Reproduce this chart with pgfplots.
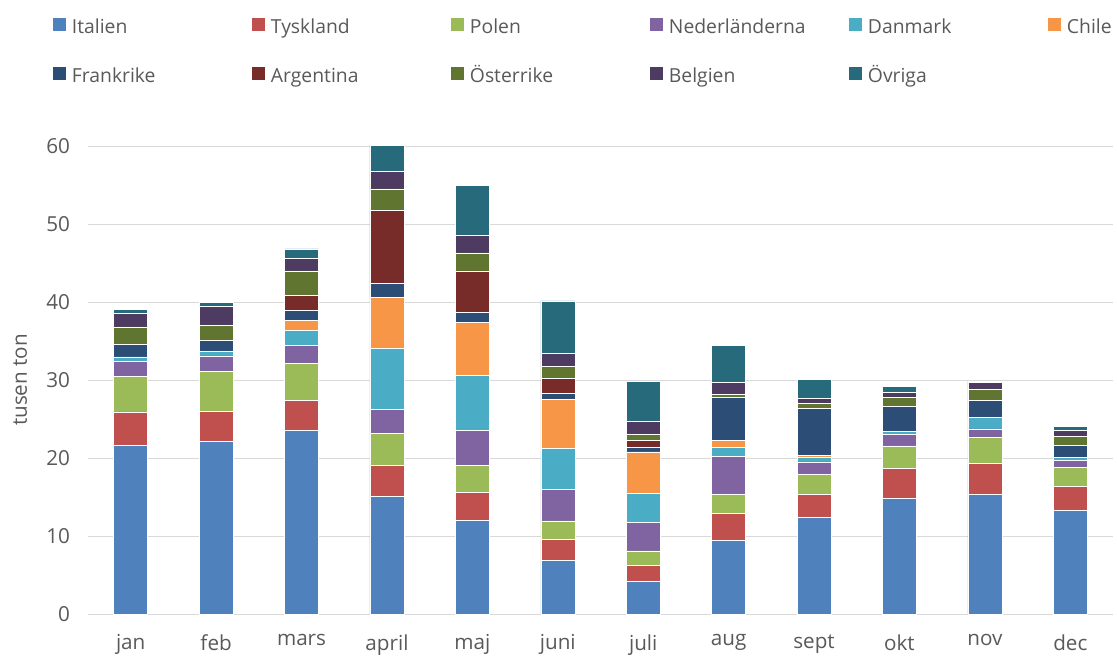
\documentclass[border=0pt]{standalone}
\usepackage{pgfplots}
\pgfplotsset{compat=1.18}
\usepackage{pgfplotstable}
\usepackage{fontspec}
\setmainfont{Open Sans}
\definecolor{txtgray}{HTML}{595959}
\definecolor{gridgray}{HTML}{D9D9D9}
\definecolor{cIta}{HTML}{4F81BD}
\definecolor{cTys}{HTML}{C0504D}
\definecolor{cPol}{HTML}{9BBB59}
\definecolor{cNed}{HTML}{8064A2}
\definecolor{cDan}{HTML}{4BACC6}
\definecolor{cChi}{HTML}{F79646}
\definecolor{cFra}{HTML}{2C4D75}
\definecolor{cArg}{HTML}{772C2A}
\definecolor{cOst}{HTML}{5F7530}
\definecolor{cBel}{HTML}{4D3B62}
\definecolor{cOvr}{HTML}{276A7C}

% tusen ton per månad och land (segmenthöjder)
\pgfplotstableread{
x  ita   tys  pol  ned  dan  chi  fra  arg  ost  bel  ovr
0  21.6  4.3  4.6  1.85 0.6  0    1.65 0    2.2  1.7  0.55
1  22.1  3.9  5.15 1.95 0.6  0    1.35 0    1.95 2.5  0.45
2  23.5  3.9  4.7  2.3  2.0  1.2  1.3  1.9  3.2  1.6  1.2
3  15.13 3.97 4.1  3.0  7.86 6.58 1.76 9.35 2.75 2.25 3.3
4  12.0  3.6  3.5  4.45 7.0  6.85 1.3  5.3  2.3  2.3  6.4
5  6.88  2.65 2.4  4.06 5.26 6.23 0.77 1.93 1.58 1.62 6.76
6  4.19  2.05 1.84 3.67 3.72 5.3  0.6  0.93 0.73 1.62 5.22
7  9.44  3.42 2.44 4.87 1.2  0.85 5.51 0    0.47 1.5  4.7
8  12.4  2.95 2.56 1.58 0.55 0.26 6.02 0    0.64 0.64 2.44
9  14.83 3.85 2.86 1.45 0.47 0    3.12 0    1.2  0.64 0.81
10 15.34 3.98 3.28 1.12 1.45 0    2.23 0    1.4  0.86 0.21
11 13.29 3.03 2.44 0.9  0.38 0    1.54 0    1.24 0.73 0.55
}\datatable

\newcommand{\legbox}[1]{\makebox[135pt][l]{\strut #1}}

\begin{document}
\begin{tikzpicture}
\useasboundingbox (0,0) rectangle (837.75pt,492.75pt);
\begin{axis}[
  at={(66pt,32.25pt)}, anchor=south west,
  scale only axis, width=768.75pt, height=351pt,
  ybar stacked, bar width=25.5pt,
  xmin=-0.5, xmax=11.5, ymin=0, ymax=60,
  clip=false,
  xtick={0,...,11},
  xticklabels={jan,feb,mars,april,maj,juni,juli,aug,sept,okt,nov,dec},
  ytick={0,10,...,60},
  axis line style={draw=none},
  major tick length=0pt,
  ymajorgrids, grid style={draw=gridgray, line width=0.75pt},
  tick label style={font=\fontsize{15.5}{18}\selectfont, text=txtgray},
  /pgf/number format/assume math mode=true,
  yticklabel style={xshift=-10pt},
  xticklabel style={yshift=-12pt},
  ylabel={tusen ton},
  ylabel style={at={(axis description cs:-0.0663,0.5)}, anchor=center,
    font=\fontsize{15.5}{18}\selectfont, text=txtgray},
  every axis plot/.append style={draw=white, line width=0.4pt},
  legend columns=6,
  legend style={at={(axis description cs:-0.0342,1.2742)}, anchor=north west,
    draw=none, fill=none, inner sep=0pt, outer sep=0pt,
    column sep=0pt, row sep=22.25pt,
    nodes={inner sep=0pt, text=txtgray, font=\fontsize{14.5}{17.4}\selectfont},
    /tikz/every odd column/.append style={column sep=4.5pt}},
  legend image code/.code={\fill[#1,draw=none] (0pt,-3.5pt) rectangle (9.75pt,6.25pt);},
]
\addplot[fill=cIta] table[x=x,y=ita]{\datatable};
\addplot[fill=cTys] table[x=x,y=tys]{\datatable};
\addplot[fill=cPol] table[x=x,y=pol]{\datatable};
\addplot[fill=cNed] table[x=x,y=ned]{\datatable};
\addplot[fill=cDan] table[x=x,y=dan]{\datatable};
\addplot[fill=cChi] table[x=x,y=chi]{\datatable};
\addplot[fill=cFra] table[x=x,y=fra]{\datatable};
\addplot[fill=cArg] table[x=x,y=arg]{\datatable};
\addplot[fill=cOst] table[x=x,y=ost]{\datatable};
\addplot[fill=cBel] table[x=x,y=bel]{\datatable};
\addplot[fill=cOvr] table[x=x,y=ovr]{\datatable};
\legend{\legbox{Italien},\legbox{Tyskland},\legbox{Polen},\legbox{Nederländerna},\legbox{Danmark},\legbox{Chile},
  \legbox{Frankrike},\legbox{Argentina},\legbox{Österrike},\legbox{Belgien},\legbox{Övriga}}
\end{axis}
\end{tikzpicture}
\end{document}
